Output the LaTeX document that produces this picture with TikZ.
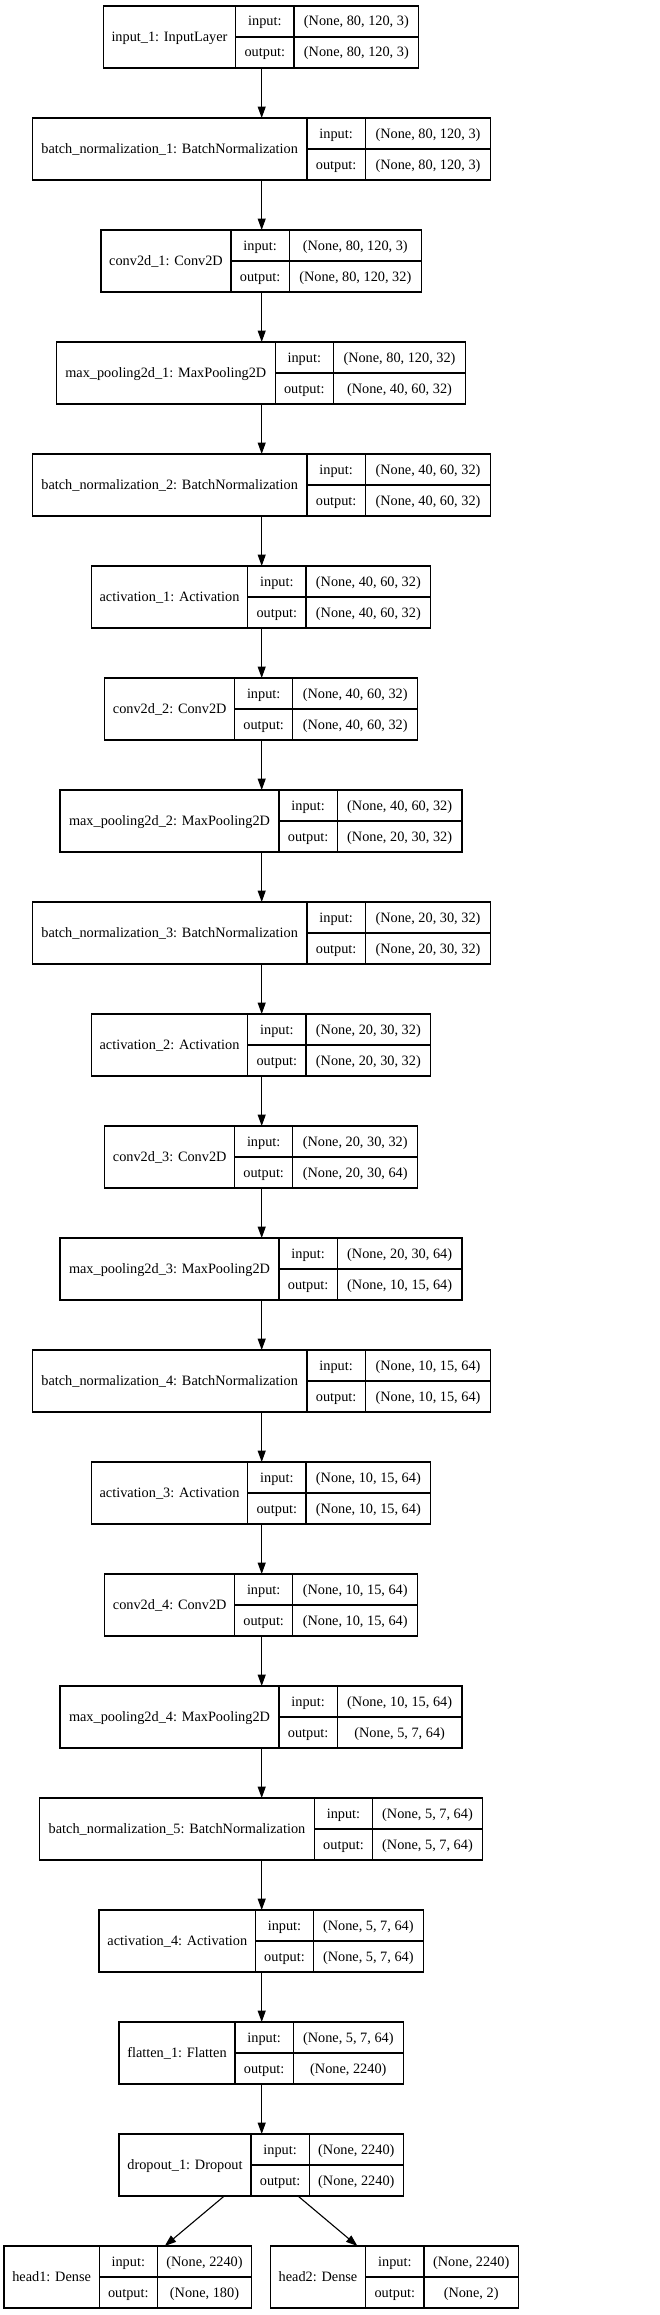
\documentclass[tikz,border=0pt]{standalone}
\usepackage{fontspec}
\setmainfont{Liberation Serif}
\usetikzlibrary{arrows.meta}
\tikzset{
  box/.style={draw=black, line width=1.1pt, rectangle, inner sep=0pt, outer sep=0pt, anchor=north west},
  sepline/.style={draw=black, line width=1.1pt},
  txt/.style={anchor=base, inner sep=0pt, font=\fontsize{14.3}{16}\selectfont},
  arr/.style={-{Triangle[length=11.5pt,width=8pt]}, line width=1.1pt, draw=black},
}
% #1 name, #2 top, #3 left, #4 div1, #5 div2, #6 right, #7 label, #8 input shape, #9 output shape
\newcommand\layer[9]{%
  \node[box, minimum width={#6-#3}, minimum height=62] (#1) at (#3,#2) {};
  \draw[sepline] (#4,#2) -- (#4,#2+62);
  \draw[sepline] (#5,#2) -- (#5,#2+62);
  \draw[sepline] (#4,#2+31) -- (#6,#2+31);
  \node[txt] (#1-lab) at ({(#3+#4)/2},{#2+35.5}) {#7};
  \node[txt] (#1-ik) at ({(#4+#5)/2},{#2+20}) {input:};
  \node[txt] (#1-iv) at ({(#5+#6)/2},{#2+20}) {#8};
  \node[txt] (#1-ok) at ({(#4+#5)/2},{#2+51}) {output:};
  \node[txt] (#1-ov) at ({(#5+#6)/2},{#2+51}) {#9};
}
\begin{document}
\begin{tikzpicture}[x=1pt,y=-1pt]
\useasboundingbox (0,0) rectangle (659,2315);
\layer{in1}{6}{103.3}{235.7}{294}{418.7}{input\_1: InputLayer}{(None, 80, 120, 3)}{(None, 80, 120, 3)}
\layer{bn1}{118}{32.3}{307}{365.3}{490.7}{batch\_normalization\_1: BatchNormalization}{(None, 80, 120, 3)}{(None, 80, 120, 3)}
\layer{cv1}{230}{101}{231}{289.3}{421.3}{conv2d\_1: Conv2D}{(None, 80, 120, 3)}{(None, 80, 120, 32)}
\layer{mp1}{342}{56.3}{275.3}{333.3}{465.7}{max\_pooling2d\_1: MaxPooling2D}{(None, 80, 120, 32)}{(None, 40, 60, 32)}
\layer{bn2}{454}{32.3}{307}{365.3}{490.7}{batch\_normalization\_2: BatchNormalization}{(None, 40, 60, 32)}{(None, 40, 60, 32)}
\layer{ac1}{566}{91.3}{247.7}{306}{430.7}{activation\_1: Activation}{(None, 40, 60, 32)}{(None, 40, 60, 32)}
\layer{cv2}{678}{104.7}{234.7}{292.7}{417.7}{conv2d\_2: Conv2D}{(None, 40, 60, 32)}{(None, 40, 60, 32)}
\layer{mp2}{790}{60}{279}{337.3}{462}{max\_pooling2d\_2: MaxPooling2D}{(None, 40, 60, 32)}{(None, 20, 30, 32)}
\layer{bn3}{902}{32.3}{307}{365.3}{490.7}{batch\_normalization\_3: BatchNormalization}{(None, 20, 30, 32)}{(None, 20, 30, 32)}
\layer{ac2}{1014}{91.3}{247.7}{306}{430.7}{activation\_2: Activation}{(None, 20, 30, 32)}{(None, 20, 30, 32)}
\layer{cv3}{1126}{104.7}{234.7}{292.7}{417.7}{conv2d\_3: Conv2D}{(None, 20, 30, 32)}{(None, 20, 30, 64)}
\layer{mp3}{1238}{60}{279}{337.3}{462}{max\_pooling2d\_3: MaxPooling2D}{(None, 20, 30, 64)}{(None, 10, 15, 64)}
\layer{bn4}{1350}{32.3}{307}{365.3}{490.7}{batch\_normalization\_4: BatchNormalization}{(None, 10, 15, 64)}{(None, 10, 15, 64)}
\layer{ac3}{1462}{91.3}{247.7}{306}{430.7}{activation\_3: Activation}{(None, 10, 15, 64)}{(None, 10, 15, 64)}
\layer{cv4}{1574}{104.7}{234.7}{292.7}{417.7}{conv2d\_4: Conv2D}{(None, 10, 15, 64)}{(None, 10, 15, 64)}
\layer{mp4}{1686}{60}{279}{337.3}{462}{max\_pooling2d\_4: MaxPooling2D}{(None, 10, 15, 64)}{(None, 5, 7, 64)}
\layer{bn5}{1798}{39.7}{314.3}{372.7}{482.3}{batch\_normalization\_5: BatchNormalization}{(None, 5, 7, 64)}{(None, 5, 7, 64)}
\layer{ac4}{1910}{99}{255.7}{313.3}{423.3}{activation\_4: Activation}{(None, 5, 7, 64)}{(None, 5, 7, 64)}
\layer{fl1}{2022}{119}{235}{293.3}{403.3}{flatten\_1: Flatten}{(None, 5, 7, 64)}{(None, 2240)}
\layer{do1}{2134}{119}{251}{309.3}{403.3}{dropout\_1: Dropout}{(None, 2240)}{(None, 2240)}
\layer{hd1}{2246}{4}{99.3}{157.3}{251.7}{head1: Dense}{(None, 2240)}{(None, 180)}
\layer{hd2}{2246}{270.3}{365.7}{424}{518.3}{head2: Dense}{(None, 2240)}{(None, 2)}
\coordinate (axis) at (261.7,0);
\foreach \a/\b in {in1/bn1,bn1/cv1,cv1/mp1,mp1/bn2,bn2/ac1,ac1/cv2,cv2/mp2,mp2/bn3,bn3/ac2,ac2/cv3,cv3/mp3,mp3/bn4,bn4/ac3,ac3/cv4,cv4/mp4,mp4/bn5,bn5/ac4,ac4/fl1,fl1/do1}
  \draw[arr] (\a.south -| axis) -- (\b.north -| axis);
\draw[arr] (do1) -- (hd1);
\draw[arr] (do1) -- (hd2);
\end{tikzpicture}
\end{document}
